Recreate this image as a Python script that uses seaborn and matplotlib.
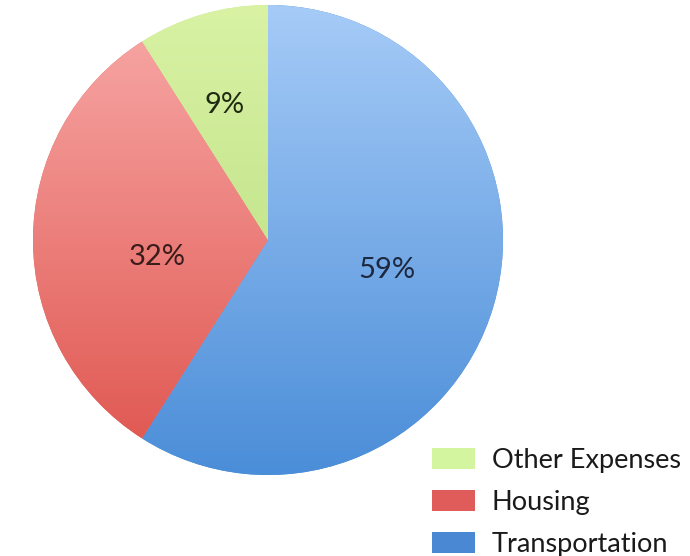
import numpy as np
import matplotlib
matplotlib.use("Agg")
import matplotlib.pyplot as plt
import seaborn as sns
from matplotlib.patches import Patch
from matplotlib.colors import LinearSegmentedColormap

sns.set_theme(style="white")
plt.rcParams['font.family'] = ['Lato', 'DejaVu Sans']

categories = ["Transportation", "Housing", "Other Expenses"]
values = [59, 32, 9]
labels = ["59%", "32%", "9%"]
top_colors = ["#a6cbf7", "#f6a3a1", "#d9f2a4"]
bottom_colors = ["#4a8dd8", "#e15a54", "#c6e68f"]
legend_colors = ["#4a88d4", "#e05c5a", "#d4f5a0"]
label_colors = ["#1c2740", "#3a1c1c", "#1f2a12"]

fig = plt.figure(figsize=(6.9, 5.56), dpi=100)
ax = fig.add_axes([33/690, (556-475)/556, 470/690, 470/556])

wedges, _ = ax.pie(values, startangle=90, counterclock=False, radius=1,
                   colors=bottom_colors, wedgeprops=dict(linewidth=0))
ax.set_xlim(-1, 1)
ax.set_ylim(-1, 1)
ax.set_aspect('equal')
ax.axis('off')

for w, tc, bc in zip(wedges, top_colors, bottom_colors):
    verts = w.get_path().vertices
    ymin, ymax = verts[:, 1].min(), verts[:, 1].max()
    grad = np.linspace(1, 0, 256).reshape(-1, 1)
    cmap = LinearSegmentedColormap.from_list("g", [bc, tc])
    im = ax.imshow(grad, cmap=cmap, extent=[-1, 1, ymin, ymax], aspect='auto',
                   origin='upper', zorder=2)
    im.set_clip_path(w)
ax.set_xlim(-1, 1)
ax.set_ylim(-1, 1)

label_pos = [(387, 270), (157, 257), (225, 105)]
for (px, py), lab, lc in zip(label_pos, labels, label_colors):
    fig.text(px/690, 1 - py/556, lab, ha='center', va='center', fontsize=21,
             color=lc, zorder=5)

handles = [Patch(facecolor=c, edgecolor='none') for c in legend_colors]
leg = fig.legend(handles[::-1], categories[::-1], loc='upper left',
                 bbox_to_anchor=(432/690, 1 - 448/556), frameon=False,
                 fontsize=19.5, handlelength=1.6, handleheight=0.8,
                 handletextpad=0.6, labelspacing=0.62, borderpad=0,
                 borderaxespad=0)
for t in leg.get_texts():
    t.set_color("#1a1a1a")

fig.savefig("out.png", dpi=100)
